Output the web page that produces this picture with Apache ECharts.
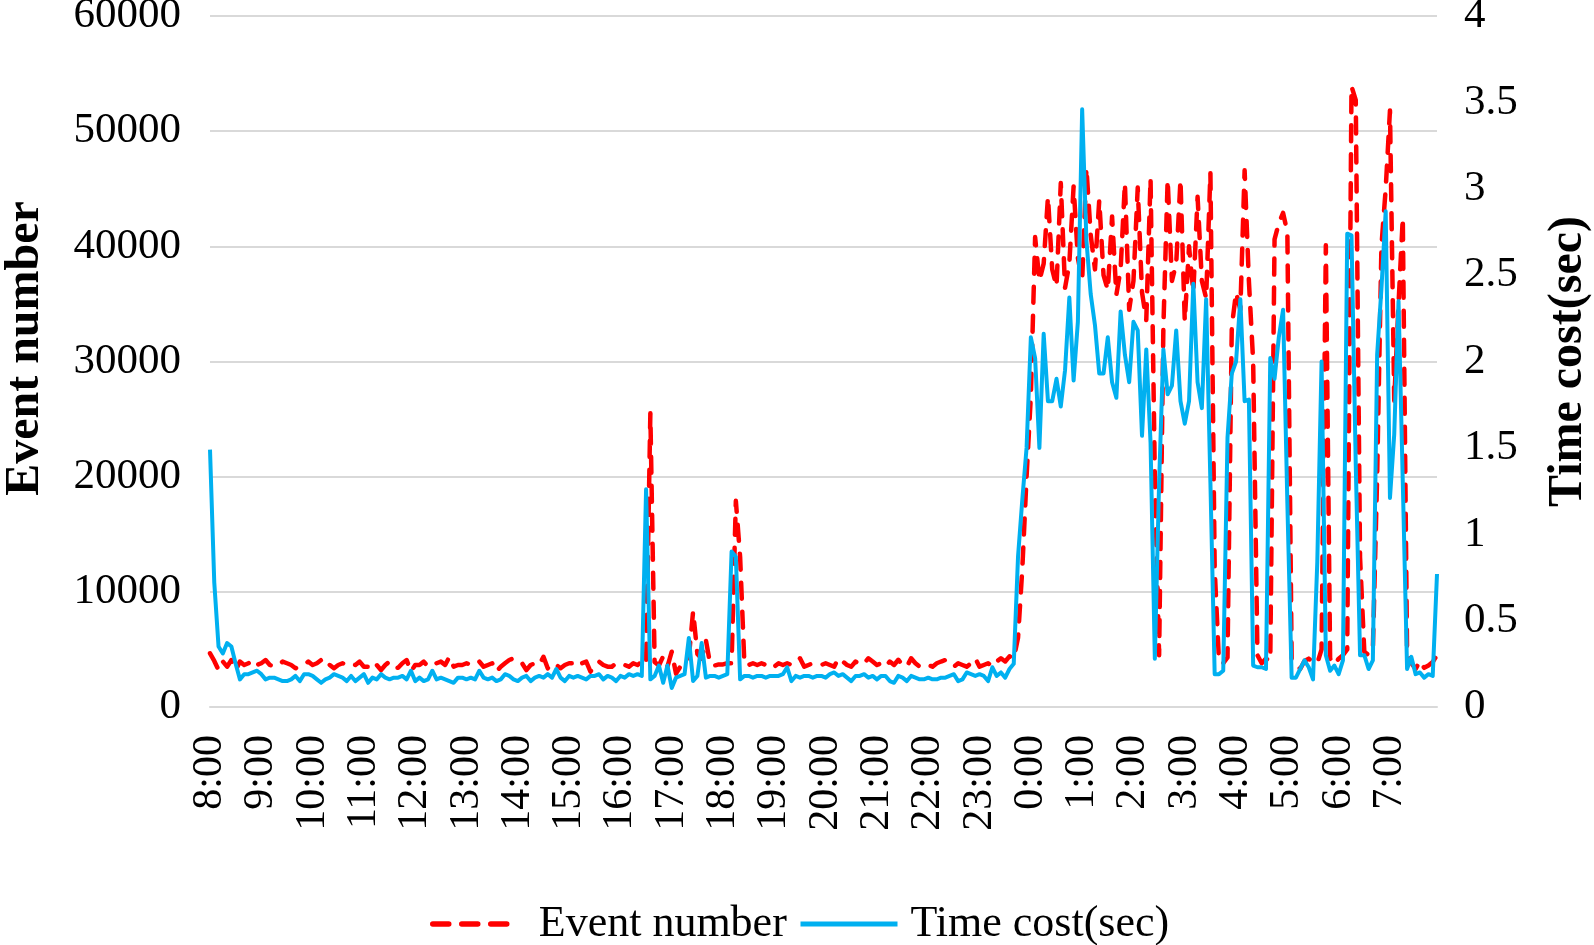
<!DOCTYPE html>
<html>
<head>
<meta charset="utf-8">
<script src="https://cdn.jsdelivr.net/npm/echarts@6/dist/echarts.min.js"></script>
<style>
html,body{margin:0;padding:0;background:#fff;}
#chart{width:1594px;height:945px;}
</style>
</head>
<body>
<div id="chart"></div>
<script>
// Hour tick labels (axis starts at 8:00, one point every 5 minutes)
const hourLabels = ['8:00','9:00','10:00','11:00','12:00','13:00','14:00','15:00','16:00','17:00','18:00','19:00',
  '20:00','21:00','22:00','23:00','0:00','1:00','2:00','3:00','4:00','5:00','6:00','7:00'];
const minuteSteps = ['00','05','10','15','20','25','30','35','40','45','50','55'];

const seriesNames = ['Event number', 'Time cost(sec)'];

// Event number (left axis), 12 values per hour
const eventNumber = [
  4660,4000,3200,3950,3500,4080,3200,3940,3650,3800,4080,3650,
  3800,4080,3650,3500,3650,3940,3800,3650,3360,3500,3650,3940,
  3650,3800,4080,4230,3650,3360,3650,3800,3650,3800,3650,3940,
  3500,3500,3940,3650,3200,3650,3940,3500,3400,3800,4080,3070,
  3650,3650,3940,3500,3650,3800,3940,3650,4360,3500,3650,3650,
  3800,3650,3650,3940,3500,3650,3800,3070,3500,3800,4080,4230,
  3940,3800,3200,3650,3800,3650,4360,3360,3800,3650,3360,3650,
  3800,3800,3500,3800,3940,3070,3650,3940,3650,3500,3500,3800,
  3650,3650,3500,3800,3650,3940,3700,25500,3900,3600,4400,3500,
  4800,2900,3500,3800,4300,8300,4600,4200,5800,3700,3600,3700,
  3700,3800,3800,17900,13000,3700,3650,3800,3650,3800,3650,3800,
  3500,3800,3650,3800,3650,3800,4230,3500,3650,3800,3650,3650,
  3800,3650,3500,4230,3950,3650,3500,3950,3650,3800,4230,3950,
  3650,3800,3500,3950,3650,4100,3650,3500,4230,3800,3500,3650,
  3650,3500,3800,3950,4080,3800,3500,3800,3650,3500,3800,4230,
  3500,3650,3800,3500,3950,4230,3950,4400,4200,6000,12000,20000,
  27000,40800,37000,38500,44300,38000,36500,45500,36400,38500,45200,39000,
  37000,46800,41000,38000,44000,37500,36200,42600,35800,38000,45500,34500,
  37000,45100,36000,33600,45900,20000,4500,33000,45800,37000,38500,45800,
  33500,40000,36000,44300,37000,35500,46400,12000,4000,3800,4300,33000,
  36000,34500,46600,37000,30000,4500,3800,4200,4000,40600,42000,42900,
  41200,4200,3800,3300,4000,4200,3900,3800,5000,40100,4200,3700,
  4200,4500,5000,53900,52700,13000,4800,4500,5000,20000,40000,45000,
  51800,26600,35000,42500,4800,3800,3300,4000,3400,3600,3900,4500
];

// Time cost in seconds (right axis), 12 values per hour
const timeCost = [
  1.49,0.72,0.35,0.31,0.37,0.35,0.25,0.16,0.19,0.19,0.20,0.21,
  0.19,0.16,0.17,0.17,0.16,0.15,0.15,0.16,0.18,0.15,0.19,0.19,
  0.18,0.16,0.14,0.16,0.17,0.19,0.18,0.17,0.15,0.18,0.15,0.17,
  0.19,0.14,0.17,0.16,0.19,0.17,0.16,0.17,0.17,0.18,0.16,0.21,
  0.15,0.17,0.15,0.16,0.21,0.16,0.17,0.16,0.15,0.14,0.17,0.17,
  0.16,0.17,0.16,0.21,0.17,0.16,0.17,0.15,0.16,0.19,0.18,0.16,
  0.15,0.17,0.18,0.15,0.17,0.18,0.17,0.19,0.17,0.22,0.17,0.15,
  0.18,0.17,0.18,0.17,0.16,0.18,0.18,0.19,0.16,0.18,0.17,0.15,
  0.18,0.17,0.19,0.18,0.19,0.18,1.26,0.16,0.18,0.24,0.14,0.24,
  0.11,0.17,0.18,0.19,0.40,0.15,0.18,0.37,0.17,0.18,0.18,0.17,
  0.18,0.19,0.90,0.87,0.16,0.18,0.18,0.17,0.18,0.18,0.17,0.18,
  0.18,0.18,0.19,0.23,0.15,0.18,0.17,0.18,0.18,0.17,0.18,0.18,
  0.17,0.19,0.20,0.18,0.19,0.17,0.15,0.18,0.18,0.19,0.17,0.18,
  0.16,0.18,0.18,0.15,0.14,0.18,0.17,0.15,0.18,0.17,0.16,0.16,
  0.17,0.16,0.16,0.17,0.17,0.18,0.19,0.15,0.16,0.20,0.19,0.18,
  0.19,0.18,0.15,0.23,0.18,0.20,0.17,0.22,0.25,0.87,1.20,1.50,
  2.14,2.02,1.50,2.16,1.77,1.77,1.90,1.74,1.95,2.37,1.89,2.23,
  3.46,2.70,2.39,2.21,1.93,1.93,2.14,1.88,1.79,2.29,2.04,1.88,
  2.23,2.18,1.57,2.07,1.53,0.28,1.30,2.07,1.81,1.86,2.18,1.77,
  1.64,1.77,2.45,1.88,1.73,2.36,1.30,0.19,0.19,0.21,1.56,1.93,
  2.00,2.36,1.77,1.78,0.24,0.23,0.23,0.22,2.02,1.90,2.14,2.30,
  1.18,0.17,0.17,0.22,0.27,0.23,0.16,0.84,2.00,0.30,0.21,0.24,
  0.19,0.27,2.74,2.73,1.40,0.30,0.30,0.22,0.27,2.04,2.42,2.87,
  1.21,1.58,2.35,1.30,0.22,0.29,0.19,0.20,0.17,0.19,0.18,0.77
];

// category labels built from the hour tick labels
const categories = [];
hourLabels.forEach(function (h) {
  const hh = h.split(':')[0];
  minuteSteps.forEach(function (m) { categories.push(hh + ':' + m); });
});

const FONT = 'Liberation Serif';
const chart = echarts.init(document.getElementById('chart'), null, {renderer: 'canvas'});
chart.setOption({
  animation: false,
  backgroundColor: '#ffffff',
  textStyle: {fontFamily: FONT, color: '#000'},
  grid: {left: 210, right: 157, top: 16, bottom: 238, containLabel: false, outerBoundsMode: 'none'},
  legend: [
    {
      data: [seriesNames[0]],
      left: 425, top: 897,
      itemWidth: 83, itemHeight: 14,
      itemStyle: {opacity: 0},
      lineStyle: {width: 5.5},
      textStyle: {fontFamily: FONT, fontSize: 44, color: '#000', padding: [0, 0, 0, 18]}
    },
    {
      data: [seriesNames[1]],
      left: 793, top: 897,
      itemWidth: 97, itemHeight: 14,
      itemStyle: {opacity: 0},
      lineStyle: {width: 5},
      textStyle: {fontFamily: FONT, fontSize: 44, color: '#000', padding: [0, 0, 0, 8]}
    }
  ],
  xAxis: {
    type: 'category',
    data: categories,
    boundaryGap: false,
    axisLine: {show: true, lineStyle: {color: '#D9D9D9', width: 2}},
    axisTick: {show: false},
    axisLabel: {
      interval: 11, rotate: 90, margin: 28,
      fontFamily: FONT, fontSize: 42, color: '#000'
    },
    splitLine: {show: false}
  },
  yAxis: [
    {
      type: 'value', min: 0, max: 60000, interval: 10000,
      name: 'Event number', nameLocation: 'middle', nameRotate: 90, nameGap: 160,
      nameTextStyle: {fontFamily: FONT, fontSize: 48, fontWeight: 'bold', color: '#000', padding: [0, 0, 0, 26]},
      axisLine: {show: false}, axisTick: {show: false},
      axisLabel: {margin: 29, fontFamily: FONT, fontSize: 43, color: '#000', formatter: function (v) { return String(v); }},
      splitLine: {show: true, lineStyle: {color: '#D9D9D9', width: 2}}
    },
    {
      type: 'value', min: 0, max: 4, interval: 0.5, position: 'right',
      name: 'Time cost(sec)', nameLocation: 'middle', nameRotate: 90, nameGap: 108,
      nameTextStyle: {fontFamily: FONT, fontSize: 48, fontWeight: 'bold', color: '#000'},
      axisLine: {show: false}, axisTick: {show: false},
      axisLabel: {margin: 27, fontFamily: FONT, fontSize: 43, color: '#000', formatter: function (v) { return String(v); }},
      splitLine: {show: false}
    }
  ],
  series: [
    {
      name: seriesNames[0], type: 'line', yAxisIndex: 0, data: eventNumber,
      symbol: 'none', showSymbol: false,
      itemStyle: {color: '#FF0000'},
      lineStyle: {color: '#FF0000', width: 4.5, type: [16, 13], cap: 'round', join: 'round'},
      z: 2
    },
    {
      name: seriesNames[1], type: 'line', yAxisIndex: 1, data: timeCost,
      symbol: 'none', showSymbol: false,
      itemStyle: {color: '#00B0F0'},
      lineStyle: {color: '#00B0F0', width: 4, join: 'round'},
      z: 3
    }
  ]
});
</script>
</body>
</html>
